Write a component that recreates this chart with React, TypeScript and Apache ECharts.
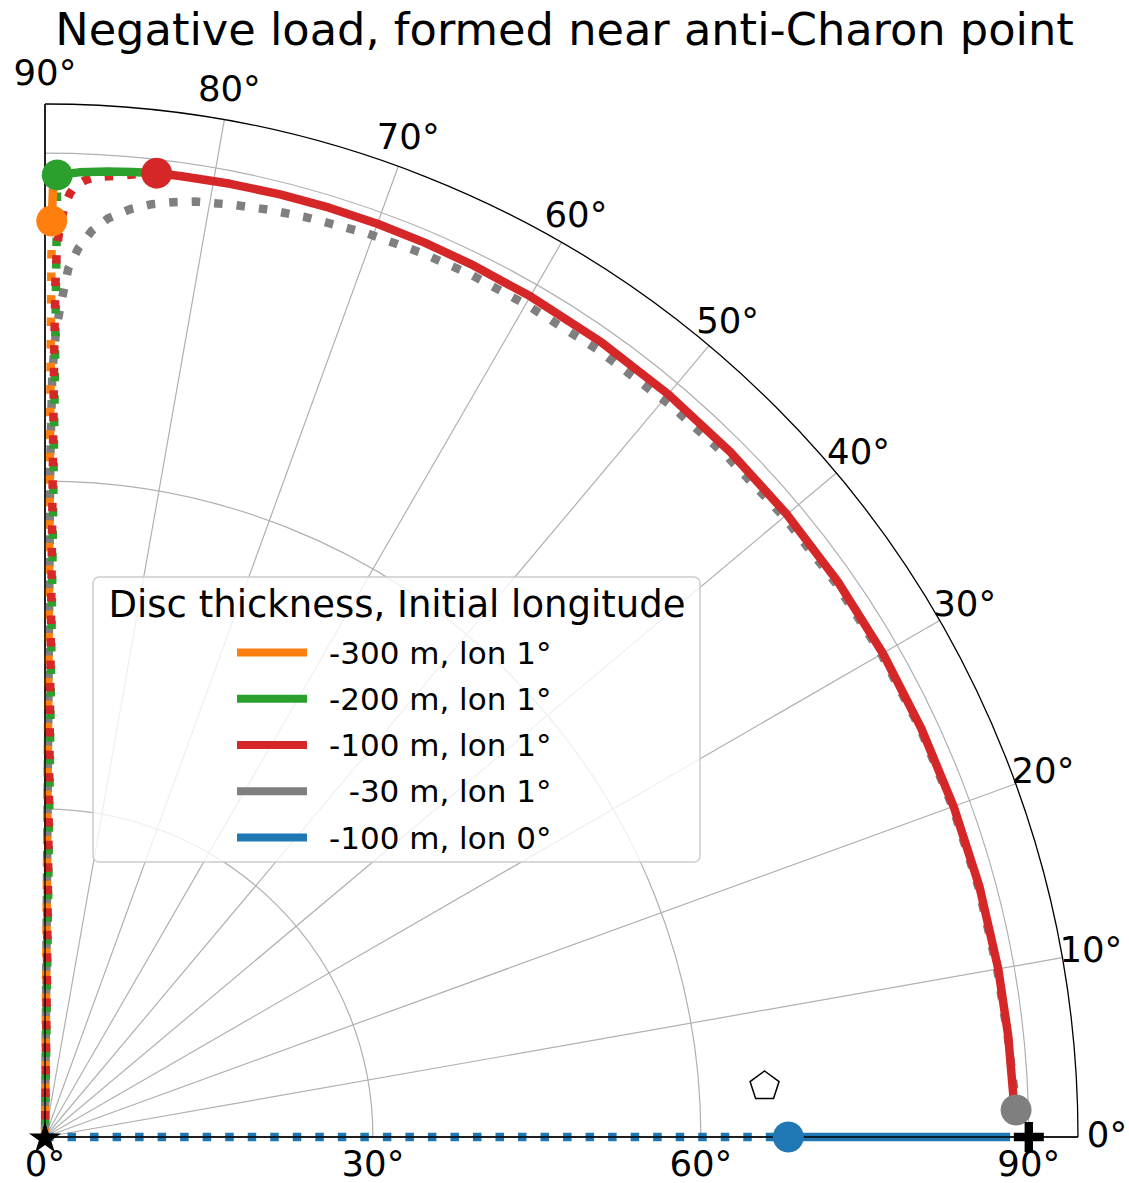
import React, { useEffect, useRef } from "react";
import * as echarts from "echarts";

const FONT = "DejaVu Sans";

const ORANGE = "#ff7f0e";
const GREEN = "#2ca02c";
const RED = "#d62728";
const GRAY = "#7f7f7f";
const BLUE = "#1f77b4";

const TITLE = "Negative load, formed near anti-Charon point";
const LEGEND_TITLE = "Disc thickness, Initial longitude";
const NAMES = [
  "-300 m, lon 1°",
  "-200 m, lon 1°",
  "-100 m, lon 1°",
  "\u00a0\u00a0-30 m, lon 1°",
  "-100 m, lon 0°",
];

// Trajectories as [radius (deg), angle (deg)]
const orangeDotted = [[0, 89.6], [83.8, 89.58]];
const orangeSolid = [[83.8, 89.58], [86.65, 89.52], [88.02, 89.27]];
const orangeMark = [83.8, 89.58];

const greenDotted = [[0, 89.3], [82.4, 89.26], [88.02, 89.27]];
const greenSolid = [[88.02, 89.27], [88.3, 88.0], [88.51, 86.27], [88.65, 84.8], [88.76, 83.39]];
const greenMark = [88.02, 89.27];

const redDotted = [
  [0, 89.35], [72, 89.33], [78, 89.3], [81.15, 89.24], [83.5, 89.05], [85.28, 88.77],
  [86.3, 88.5], [87.05, 88.19], [87.6, 87.6], [87.92, 87.02], [88.17, 85.73], [88.5, 84.5],
  [88.76, 83.39],
];
const redSolid = [
  [88.76, 83.39], [88.78, 82], [88.83, 79], [88.88, 76], [88.9, 73], [88.9, 70], [88.88, 67],
  [88.85, 64], [88.8, 60], [88.75, 55], [88.7, 50], [88.65, 45], [88.6, 40], [88.55, 35],
  [88.5, 30], [88.45, 25], [88.45, 20], [88.5, 15], [88.55, 10], [88.6, 6], [88.67, 2.38],
];
const redMark = [88.76, 83.39];

const grayDotted = [
  [0, 89.6], [62, 89.55], [70, 89.45], [74, 89.2], [77, 88.8], [79.5, 88.46], [81.36, 87.85],
  [83.0, 87.05], [84.25, 86.06], [85.23, 84.76], [85.89, 83.47], [86.32, 82.18], [86.67, 80.89],
  [87.0, 78.6], [87.25, 76.5], [87.46, 74.32], [87.76, 70.4], [87.9, 67], [88.0, 63.8],
  [87.96, 59.9], [88.0, 55], [88.06, 49.5], [88.15, 45], [88.25, 40], [88.32, 35], [88.35, 30],
  [88.35, 25], [88.35, 20], [88.4, 15], [88.45, 10], [88.55, 6], [88.75, 3], [88.87, 1.59],
];
const grayMark = [88.87, 1.59];

const blueDotted = [[0, 0], [68, 0]];
const blueSolid = [[68, 0], [88.3, 0]];
const blueMark = [68, 0];

// Reference locations
const starPoint = [0, 0];
const plusPoint = [90, 0];
const pentagonPoint = [66, 4.15];

// Axes
const R_MAX = 94.5;
const R_STEP = 30;
const THETA_TICKS = [0, 10, 20, 30, 40, 50, 60, 70, 80, 90];
const THETA_STEP = 10;

const CENTER = [45, 1137];
const RADIUS_PX = 1033;
const LABEL_PAD_PX = 29;
const LABEL_LIFT_PX = 3;
const TICK_FONT = 35.5;

const LW = 8.5;
const DOT = [LW, LW * 1.65];

// Marks live on an overlay polar with the same centre and radial scale but a
// full-circle angle range, so strokes lying on the 0°/90° edges are not cut in half.
const MARK_POLAR = 1;

function polygonPath(n: number, inner: number | null): string {
  const pts: string[] = [];
  const count = inner === null ? n : n * 2;
  for (let i = 0; i < count; i++) {
    const a = -Math.PI / 2 + (i * 2 * Math.PI) / count;
    const rr = inner !== null && i % 2 === 1 ? inner : 1;
    pts.push(`${(rr * Math.cos(a)).toFixed(4)},${(rr * Math.sin(a)).toFixed(4)}`);
  }
  return "path://M" + pts.join("L") + "Z";
}
const STAR = polygonPath(5, 0.382);
const PENTAGON = polygonPath(5, null);
const PLUS = "path://M3.6,0H6.4V3.6H10V6.4H6.4V10H3.6V6.4H0V3.6H3.6Z";

function lineSeries(
  name: string,
  color: string,
  data: number[][],
  dotted: boolean,
  dashOffset = 0,
  z = 2
) {
  return {
    type: "line",
    name,
    coordinateSystem: "polar",
    polarIndex: MARK_POLAR,
    data,
    symbol: "none",
    clip: false,
    silent: true,
    z,
    color,
    itemStyle: { color },
    lineStyle: {
      color,
      width: LW,
      type: dotted ? DOT : "solid",
      dashOffset,
      cap: "butt",
      join: "round",
    },
  };
}

function markSeries(name: string, color: string, point: number[], z = 4) {
  return {
    type: "scatter",
    name,
    coordinateSystem: "polar",
    polarIndex: MARK_POLAR,
    data: [point],
    symbol: "circle",
    symbolSize: 31,
    clip: false,
    silent: true,
    z,
    color,
    itemStyle: { color, opacity: 1 },
  };
}

function refMark(point: number[], symbol: string, size: number, itemStyle: object) {
  return {
    type: "scatter",
    coordinateSystem: "polar",
    polarIndex: MARK_POLAR,
    data: [point],
    symbol,
    symbolSize: size,
    symbolKeepAspect: true,
    clip: false,
    silent: true,
    z: 5,
    itemStyle: { opacity: 1, ...itemStyle },
  };
}

export default function App() {
  const ref = useRef<HTMLDivElement>(null);

  useEffect(() => {
    document.body.style.margin = "0";
    if (!ref.current) return;
    const chart = echarts.init(ref.current, undefined, { renderer: "svg" });

    const gridGray = "#b0b0b0";
    const angleLineColors = ["#000000"];
    for (let v = THETA_STEP; v < 90; v += THETA_STEP) angleLineColors.push(gridGray);
    angleLineColors.push("#000000");

    const legendBox = [
      {
        type: "rect",
        z: 10,
        silent: true,
        shape: { x: 93, y: 577, width: 607, height: 285, r: 6 },
        style: { fill: "rgba(255,255,255,0.8)", stroke: "#cccccc", lineWidth: 1.5 },
      },
      {
        type: "text",
        z: 13,
        silent: true,
        x: 397,
        y: 604,
        style: {
          text: LEGEND_TITLE,
          fontFamily: FONT,
          fontSize: 37,
          fill: "#000",
          align: "center",
          verticalAlign: "middle",
        },
      },
    ];

    chart.setOption({
      animation: false,
      backgroundColor: "#ffffff",
      title: {
        text: TITLE,
        left: "center",
        top: 2,
        textStyle: { fontFamily: FONT, fontSize: 44.7, fontWeight: "normal", color: "#000" },
      },
      polar: [
        { center: CENTER, radius: RADIUS_PX },
        { center: CENTER, radius: RADIUS_PX },
      ],
      angleAxis: [
        {
          polarIndex: 0,
          type: "value",
          min: 0,
          max: 90,
          interval: THETA_STEP,
          startAngle: 0,
          endAngle: 90,
          clockwise: false,
          axisLine: { show: true, lineStyle: { color: "#000", width: 1.3 } },
          axisTick: { show: false },
          axisLabel: { show: false },
          splitLine: { show: true, lineStyle: { color: angleLineColors, width: 1.2 } },
        },
        {
          polarIndex: MARK_POLAR,
          type: "value",
          min: 0,
          max: 360,
          startAngle: 0,
          clockwise: false,
          show: false,
        },
      ],
      radiusAxis: [
        {
          polarIndex: 0,
          type: "value",
          min: 0,
          max: R_MAX,
          interval: R_STEP,
          axisLine: { show: false },
          axisTick: { show: false },
          axisLabel: {
            show: true,
            margin: -44,
            formatter: (v: number) => (v % R_STEP === 0 ? `${v}°` : ""),
            fontFamily: FONT,
            fontSize: TICK_FONT,
            color: "#000",
          },
          splitLine: {
            show: true,
            lineStyle: {
              color: [gridGray, gridGray, gridGray, gridGray, "rgba(0,0,0,0)"],
              width: 1.2,
            },
          },
        },
        {
          polarIndex: MARK_POLAR,
          type: "value",
          min: 0,
          max: R_MAX,
          show: false,
        },
      ],
      legend: {
        orient: "vertical",
        left: 232,
        top: 632,
        itemWidth: 70,
        itemHeight: 8,
        itemGap: 15.25,
        icon: "rect",
        selectedMode: false,
        z: 12,
        data: NAMES,
        itemStyle: { borderWidth: 0 },
        textStyle: {
          fontFamily: FONT,
          fontSize: 31,
          lineHeight: 30,
          color: "#000",
          padding: [0, 0, 0, 17],
        },
      },
      graphic: legendBox,
      series: [
        lineSeries(NAMES[3], GRAY, grayDotted, true, 15),
        lineSeries(NAMES[0], ORANGE, orangeDotted, true, 0),
        lineSeries(NAMES[1], GREEN, greenDotted, true, 10),
        lineSeries(NAMES[2], RED, redDotted, true, 5),
        lineSeries(NAMES[0], ORANGE, orangeSolid, false),
        lineSeries(NAMES[1], GREEN, greenSolid, false),
        lineSeries(NAMES[2], RED, redSolid, false),
        lineSeries(NAMES[4], BLUE, blueDotted, true, 0),
        lineSeries(NAMES[4], BLUE, blueSolid, false),
        {
          type: "line",
          coordinateSystem: "polar",
          polarIndex: MARK_POLAR,
          data: [[R_MAX, 90], [0, 90], [0, 0], [R_MAX, 0]],
          symbol: "none",
          clip: false,
          silent: true,
          z: 3,
          lineStyle: { color: "#000", width: 1.3 },
        },
        markSeries(NAMES[0], ORANGE, orangeMark),
        markSeries(NAMES[1], GREEN, greenMark),
        markSeries(NAMES[2], RED, redMark),
        markSeries(NAMES[3], GRAY, grayMark),
        markSeries(NAMES[4], BLUE, blueMark),
        refMark(starPoint, STAR, 32, { color: "#000" }),
        refMark(plusPoint, PLUS, 30, { color: "#000" }),
        refMark(pentagonPoint, PENTAGON, 29, {
          color: "#ffffff",
          borderColor: "#000",
          borderWidth: 1.5,
        }),
      ],
    });

    // Angle tick labels, centred just outside the rim (positions from the polar scale)
    const labelR = (R_MAX * (RADIUS_PX + LABEL_PAD_PX)) / RADIUS_PX;
    const angleLabels = THETA_TICKS.map((a) => {
      const p = chart.convertToPixel({ polarIndex: 0 } as any, [labelR, a]) as number[];
      return {
        type: "text",
        z: 6,
        silent: true,
        x: p[0],
        y: p[1] - LABEL_LIFT_PX,
        style: {
          text: `${a}°`,
          fontFamily: FONT,
          fontSize: TICK_FONT,
          fill: "#000",
          align: "center",
          verticalAlign: "middle",
        },
      };
    });
    chart.setOption({ graphic: [...legendBox, ...angleLabels] });

    return () => chart.dispose();
  }, []);

  return <div ref={ref} style={{ width: 1129, height: 1183 }} />;
}
